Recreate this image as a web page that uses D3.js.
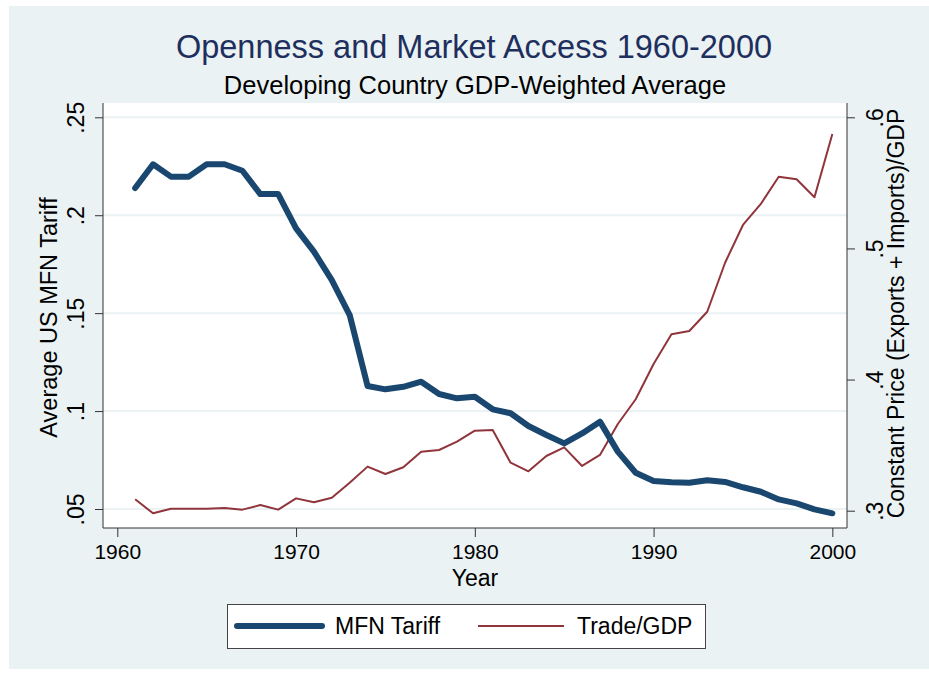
<!DOCTYPE html>
<meta charset="utf-8">
<style>
body { margin: 0; background: #fff; }
text { font-family: "Liberation Sans", Arial, sans-serif; }
.axis path, .axis line { stroke: #333; }
</style>
<body>
<script src="https://d3js.org/d3.v7.min.js"></script>
<script>
// years of the series
var years = [1961, 1962, 1963, 1964, 1965, 1966, 1967, 1968, 1969, 1970,
             1971, 1972, 1973, 1974, 1975, 1976, 1977, 1978, 1979, 1980,
             1981, 1982, 1983, 1984, 1985, 1986, 1987, 1988, 1989, 1990,
             1991, 1992, 1993, 1994, 1995, 1996, 1997, 1998, 1999, 2000];

// average US MFN tariff (left axis)
var mfnTariff = [.2139, .2260, .2197, .2197, .2260, .2260, .2227, .2108, .2108, .1933,
                 .1814, .1669, .1490, .1128, .1111, .1124, .1150, .1087, .1065, .1073,
                 .1009, .0989, .0924, .0878, .0835, .0886, .0946, .0793, .0685, .0643,
                 .0636, .0634, .0647, .0638, .0611, .0588, .0549, .0529, .0498, .0478];

// (exports + imports)/GDP, constant prices (right axis)
var tradeGdp = [.3087, .2980, .3015, .3015, .3015, .3020, .3008, .3043, .3008, .3094,
                .3064, .3099, .3213, .3336, .3280, .3331, .3450, .3463, .3526, .3610,
                .3615, .3366, .3300, .3417, .3483, .3341, .3425, .3661, .3850, .4119,
                .4345, .4370, .4517, .4891, .5179, .5339, .5547, .5527, .5390, .5873];

var xTicks = [1960, 1970, 1980, 1990, 2000];
var leftTicks = [.05, .1, .15, .2, .25];
var rightTicks = [.3, .4, .5, .6];

var W = 929, H = 675;
var plot = {left: 103, right: 847, top: 103, bottom: 528};
var navy = "#1a476f", maroon = "#90353b", bg = "#eaf2f3";

var svg = d3.select("body").append("svg")
    .attr("width", W)
    .attr("height", H);

// outer panel
svg.append("rect")
    .attr("x", 9).attr("y", 6)
    .attr("width", W - 9).attr("height", 663)
    .attr("fill", bg);

// plot region
svg.append("rect")
    .attr("x", plot.left).attr("y", plot.top)
    .attr("width", plot.right - plot.left)
    .attr("height", plot.bottom - plot.top)
    .attr("fill", "#fff");

var x = d3.scaleLinear().domain([1959.2, 2000.82]).range([plot.left, plot.right]);
var yL = d3.scaleLinear().domain([0.0403, 0.2573]).range([plot.bottom, plot.top]);
var yR = d3.scaleLinear().domain([0.2868, 0.6109]).range([plot.bottom, plot.top]);

var noZero = function(d) { return String(d).replace(/^0/, ""); };

// gridlines
svg.append("g").selectAll("line")
    .data(leftTicks)
  .enter().append("line")
    .attr("x1", plot.left).attr("x2", plot.right)
    .attr("y1", d => yL(d)).attr("y2", d => yL(d))
    .attr("stroke", bg)
    .attr("stroke-width", 2);

// left axis
var gL = svg.append("g")
    .attr("class", "axis")
    .attr("transform", "translate(" + plot.left + ",0)")
    .call(d3.axisLeft(yL).tickValues(leftTicks).tickFormat(noZero).tickSize(8).tickSizeOuter(0));
gL.selectAll("text")
    .attr("transform", "rotate(-90)")
    .attr("text-anchor", "middle")
    .attr("x", 0).attr("y", -19).attr("dy", 0)
    .attr("font-size", 23).attr("fill", "#000");

// right axis
var gR = svg.append("g")
    .attr("class", "axis")
    .attr("transform", "translate(" + plot.right + ",0)")
    .call(d3.axisRight(yR).tickValues(rightTicks).tickFormat(noZero).tickSize(8).tickSizeOuter(0));
gR.selectAll("text")
    .attr("transform", "rotate(-90)")
    .attr("text-anchor", "middle")
    .attr("x", 0).attr("y", 36).attr("dy", 0)
    .attr("font-size", 23).attr("fill", "#000");

// bottom axis
var gX = svg.append("g")
    .attr("class", "axis")
    .attr("transform", "translate(0," + plot.bottom + ")")
    .call(d3.axisBottom(x).tickValues(xTicks).tickFormat(d3.format("d")).tickSize(9).tickSizeOuter(0).tickPadding(7));
gX.selectAll("text")
    .attr("font-size", 21).attr("fill", "#000");

gL.select(".domain").attr("d", "M0," + plot.top + "V" + plot.bottom);
gR.select(".domain").attr("d", "M0," + plot.top + "V" + plot.bottom);
gX.select(".domain").attr("d", "M" + plot.left + ",0H" + plot.right);

// lines
var mfnLine = d3.line()
    .x((d, i) => x(years[i]))
    .y(d => yL(d));
var tradeLine = d3.line()
    .x((d, i) => x(years[i]))
    .y(d => yR(d));

svg.append("path")
    .datum(tradeGdp)
    .attr("d", tradeLine)
    .attr("fill", "none")
    .attr("stroke", maroon)
    .attr("stroke-width", 2)
    .attr("stroke-linejoin", "round");

svg.append("path")
    .datum(mfnTariff)
    .attr("d", mfnLine)
    .attr("fill", "none")
    .attr("stroke", navy)
    .attr("stroke-width", 6)
    .attr("stroke-linejoin", "round")
    .attr("stroke-linecap", "round");

// titles
svg.append("text")
    .attr("x", 474).attr("y", 58)
    .attr("text-anchor", "middle")
    .attr("font-size", 32.5)
    .attr("fill", "#1e2f5e")
    .text("Openness and Market Access 1960-2000");

svg.append("text")
    .attr("x", 475).attr("y", 94)
    .attr("text-anchor", "middle")
    .attr("font-size", 25.5)
    .attr("fill", "#000")
    .text("Developing Country GDP-Weighted Average");

svg.append("text")
    .attr("transform", "translate(57," + ((plot.top + plot.bottom) / 2 + 2) + ") rotate(-90)")
    .attr("text-anchor", "middle")
    .attr("font-size", 23.5)
    .text("Average US MFN Tariff");

svg.append("text")
    .attr("transform", "translate(904," + ((plot.top + plot.bottom) / 2 - 2) + ") rotate(-90)")
    .attr("text-anchor", "middle")
    .attr("font-size", 23)
    .text("Constant Price (Exports + Imports)/GDP");

svg.append("text")
    .attr("x", (plot.left + plot.right) / 2).attr("y", 586)
    .attr("text-anchor", "middle")
    .attr("font-size", 23)
    .text("Year");

// legend
var legend = svg.append("g");
legend.append("rect")
    .attr("x", 227.5).attr("y", 604.5)
    .attr("width", 478).attr("height", 44)
    .attr("fill", "#fff")
    .attr("stroke", "#444");

var legendItems = [
  {label: "MFN Tariff", color: navy, width: 6, x1: 237, x2: 322, tx: 335},
  {label: "Trade/GDP", color: maroon, width: 2, x1: 478, x2: 564, tx: 577}
];
legendItems.forEach(function(it) {
  legend.append("line")
      .attr("x1", it.x1).attr("x2", it.x2)
      .attr("y1", 626).attr("y2", 626)
      .attr("stroke", it.color)
      .attr("stroke-width", it.width)
      .attr("stroke-linecap", it.width > 3 ? "round" : "butt");
  legend.append("text")
      .attr("x", it.tx).attr("y", 634)
      .attr("font-size", 23)
      .text(it.label);
});
</script>
</body>
